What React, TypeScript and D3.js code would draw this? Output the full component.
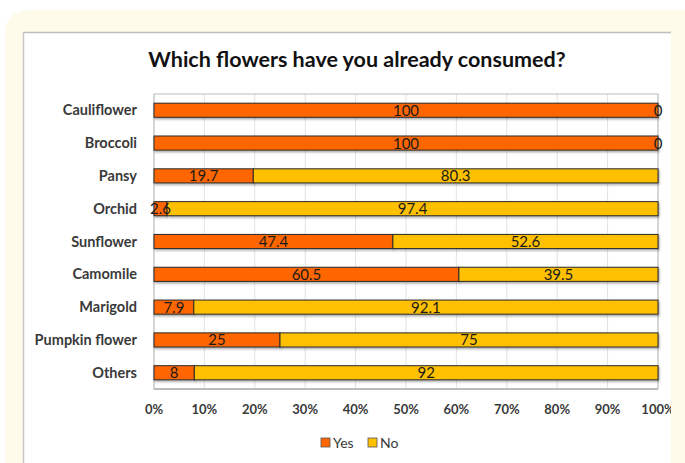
import React from "react";
import * as d3 from "d3";

const categories = ["Cauliflower", "Broccoli", "Pansy", "Orchid", "Sunflower", "Camomile", "Marigold", "Pumpkin flower", "Others"];
const yesValues = [100, 100, 19.7, 2.6, 47.4, 60.5, 7.9, 25, 8];
const noValues = [0, 0, 80.3, 97.4, 52.6, 39.5, 92.1, 75, 92];
const seriesNames = ["Yes", "No"];
const seriesColors = ["#FF6600", "#FFC000"];
const xTicks = [0, 10, 20, 30, 40, 50, 60, 70, 80, 90, 100];
const title = "Which flowers have you already consumed?";

const W = 685;
const H = 463;
const plotLeft = 154;
const plotRight = 658;
const plotTop = 94;
const plotBottom = 389;
const FONT = "Lato, 'Open Sans', sans-serif";

export default function App() {
  const x = d3.scaleLinear().domain([0, 100]).range([plotLeft, plotRight]);
  const y = d3.scaleBand<string>().domain(categories).range([plotTop, plotBottom]).paddingInner(0.57).paddingOuter(0.28);
  const rows = categories.map((c, i) => ({ cat: c, vals: [yesValues[i], noValues[i]] }));
  const stack = d3.stack<any>().keys(["0", "1"]).value((d: any, k: string) => d.vals[+k]);
  const stacked = stack(rows);

  return (
    <div style={{ position: "absolute", left: 0, top: 0, width: W, height: H, background: "#fff" }}>
      <svg width={W} height={H} style={{ display: "block" }}>
        <defs>
          <filter id="sh" x="-5%" y="-30%" width="110%" height="180%">
            <feDropShadow dx="1" dy="1.5" stdDeviation="1" floodColor="#000" floodOpacity="0.35" />
          </filter>
        </defs>
        <rect x={5} y={10} width={700} height={480} rx={22} fill="#FFFBEA" />
        <rect x={23} y={32} width={648} height={440} fill="#fff" />
        <line x1={23} x2={671} y1={32.5} y2={32.5} stroke="#bdbdbd" strokeWidth={1.5} />
        <line x1={23.5} x2={23.5} y1={32} y2={463} stroke="#c8c8c8" strokeWidth={1.5} />
        <text x={357} y={67} textAnchor="middle" fontFamily={FONT} fontWeight={700} fontSize={21.5} fill="#111">
          {title}
        </text>
        {/* gridlines */}
        {xTicks.map((t) => (
          <line key={t} x1={x(t)} x2={x(t)} y1={plotTop} y2={plotBottom} stroke="#e3e3e3" strokeWidth={1} />
        ))}
        <rect x={plotLeft} y={plotTop} width={plotRight - plotLeft} height={plotBottom - plotTop} fill="none" stroke="#bcbcbc" strokeWidth={1} />
        {/* bars */}
        {stacked.map((s, si) =>
          s.map((d, i) => {
            const x0 = x(d[0]);
            const x1 = x(d[1]);
            const yy = y(categories[i]) as number;
            return (
              <rect key={si + "-" + i} x={x0} y={yy} width={Math.max(0, x1 - x0)} height={y.bandwidth()} fill={seriesColors[si]} stroke="#2b2b2b" strokeWidth={1} filter="url(#sh)" />
            );
          })
        )}
        {/* axis line */}
        <line x1={plotLeft} x2={plotLeft} y1={plotTop - 2} y2={plotBottom} stroke="#3a3a3a" strokeWidth={2} filter="url(#sh)" />
        <line x1={plotLeft} x2={plotRight} y1={plotBottom} y2={plotBottom} stroke="#9a9a9a" strokeWidth={1} />
        {/* data labels */}
        {stacked.map((s, si) =>
          s.map((d, i) => {
            const cx = (x(d[0]) + x(d[1])) / 2;
            const yy = (y(categories[i]) as number) + y.bandwidth() / 2;
            const v = rows[i].vals[si];
            return (
              <text key={"l" + si + "-" + i} x={cx} y={yy + 5.5} textAnchor="middle" fontFamily={FONT} fontSize={15} fill="#1a1a1a">
                {v}
              </text>
            );
          })
        )}
        {/* category labels */}
        {categories.map((c) => (
          <text key={c} x={137} y={(y(c) as number) + y.bandwidth() / 2 + 5} textAnchor="end" fontFamily={FONT} fontWeight={700} fontSize={14.5} fill="#3a3a3a">
            {c}
          </text>
        ))}
        {/* x tick labels */}
        {xTicks.map((t) => (
          <text key={"t" + t} x={x(t)} y={414} textAnchor="middle" fontFamily={FONT} fontWeight={700} fontSize={13} fill="#3a3a3a">
            {t + "%"}
          </text>
        ))}
        {/* legend */}
        {seriesNames.map((n, i) => {
          const lx = i === 0 ? 321 : 368;
          return (
            <g key={n}>
              <rect x={lx} y={438} width={9} height={9} fill={seriesColors[i]} stroke="#555" strokeWidth={0.8} />
              <text x={lx + 12} y={448} fontFamily={FONT} fontSize={14} fill="#3a3a3a">
                {n}
              </text>
            </g>
          );
        })}
        <rect x={671} y={32} width={14} height={431} fill="#FFFBEA" />
      </svg>
    </div>
  );
}
